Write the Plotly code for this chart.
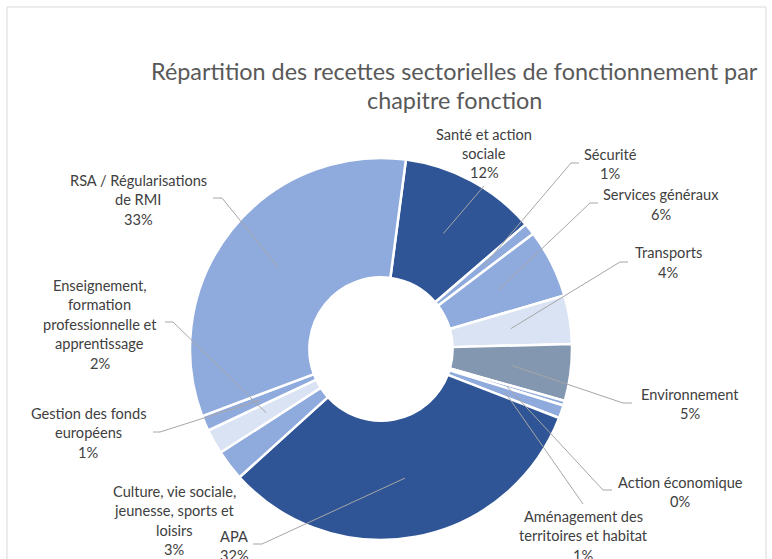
import math
import plotly.graph_objects as go

# ---------------- data ----------------
categories = [
    "Santé et action sociale", "Sécurité", "Services généraux", "Transports",
    "Environnement", "Action économique", "Aménagement des territoires et habitat",
    "APA", "Culture, vie sociale, jeunesse, sports et loisirs",
    "Enseignement, formation professionnelle et apprentissage",
    "Gestion des fonds européens", "RSA / Régularisations de RMI",
]
values = [11.6, 1.0, 5.8, 4.1, 4.8, 0.4, 1.1, 32.4, 2.6, 2.1, 1.3, 32.8]
label_lines = [
    ["Santé et action", "sociale"],
    ["Sécurité"],
    ["Services généraux"],
    ["Transports"],
    ["Environnement"],
    ["Action économique"],
    ["Aménagement des", "territoires et habitat"],
    ["APA"],
    ["Culture, vie sociale,", "jeunesse, sports et", "loisirs"],
    ["Enseignement,", "formation", "professionnelle et", "apprentissage"],
    ["Gestion des fonds", "européens"],
    ["RSA / Régularisations", "de RMI"],
]
title_lines = ["Répartition des recettes sectorielles de fonctionnement par",
               "chapitre fonction"]

# ---------------- styles / layout ----------------
colors = ["#2F5597", "#8FAADC", "#8FAADC", "#DAE3F3", "#8497B0", "#8FAADC",
          "#8FAADC", "#2F5597", "#8FAADC", "#DAE3F3", "#8FAADC", "#8FAADC"]
W, H = 772, 559
CX, CY, R = 381, 349, 191
HOLE = 0.375
ROT = 7.5
FONT = "Lato"
LBL_SIZE = 14.6
LINE_H = 19.5

# label block positions (center x, first line center y) and leader anchors
label_pos = [(484, 134), (610, 154), (661, 195), (668, 253), (690, 394),
             (680, 482), (583, 516), (234, 536), (174, 491), (100, 285),
             (88, 413), (138, 180)]
leader = [((484, 186), None), ((579, 163), -8), ((598, 203), -8),
          ((628, 262), -8), ((632, 403), -9), ((612, 490), -9),
          ((583, 504), None), ((253, 544), 9), None, ((165, 322), 8),
          ((153, 432), 7), ((213, 198), 9)]


def px(x):
    return x / W


def py(y):
    return 1 - y / H


fig = go.Figure(go.Pie(
    labels=categories, values=values, sort=False, direction="clockwise",
    rotation=ROT, hole=HOLE, textinfo="none",
    marker=dict(colors=colors, line=dict(color="white", width=2.5)),
    domain=dict(x=[px(CX - R), px(CX + R)], y=[py(CY + R), py(CY - R)]),
    showlegend=False,
))

annotations = []
shapes = []
total = sum(values)
cum = 0.0
rm = R * (1 + HOLE) / 2
for i, v in enumerate(values):
    mid = math.radians(ROT + (cum + v / 2) / total * 360)
    cum += v
    ex, ey = CX + rm * math.sin(mid), CY - rm * math.cos(mid)
    lines = label_lines[i] + [f"{round(v / total * 100)}%"]
    lx, ly = label_pos[i]
    for k, t in enumerate(lines):
        annotations.append(dict(
            x=px(lx), y=py(ly + k * LINE_H), xref="paper", yref="paper",
            text=t, showarrow=False, xanchor="center", yanchor="middle",
            font=dict(family=FONT, size=LBL_SIZE, color="#404040")))
    if leader[i] is not None:
        (ax, ay), elbow = leader[i]
        pts = [(ax, ay)]
        if elbow is not None:
            pts.append((ax + elbow, ay))
        pts.append((ex, ey))
        path = "M " + " L ".join(f"{px(a)},{py(b)}" for a, b in pts)
        shapes.append(dict(type="path", path=path, xref="paper", yref="paper",
                           line=dict(color="#A6A6A6", width=1)))

for k, t in enumerate(title_lines):
    annotations.append(dict(
        x=px(454), y=py(71 + k * 29), xref="paper", yref="paper", text=t,
        showarrow=False, xanchor="center", yanchor="middle",
        font=dict(family=FONT, size=23.4, color="#595959")))

shapes.append(dict(type="rect", xref="paper", yref="paper",
                   x0=px(7), x1=px(766), y0=py(575), y1=py(7),
                   line=dict(color="#D9D9D9", width=1), layer="below"))

fig.update_layout(
    width=W, height=H, margin=dict(l=0, r=0, t=0, b=0),
    paper_bgcolor="white", plot_bgcolor="white",
    annotations=annotations, shapes=shapes,
)
fig.write_html(
    "out.html",
    config={"displayModeBar": False},
    post_script="document.body.style.margin='0';"
                "document.body.style.overflow='hidden';",
)
